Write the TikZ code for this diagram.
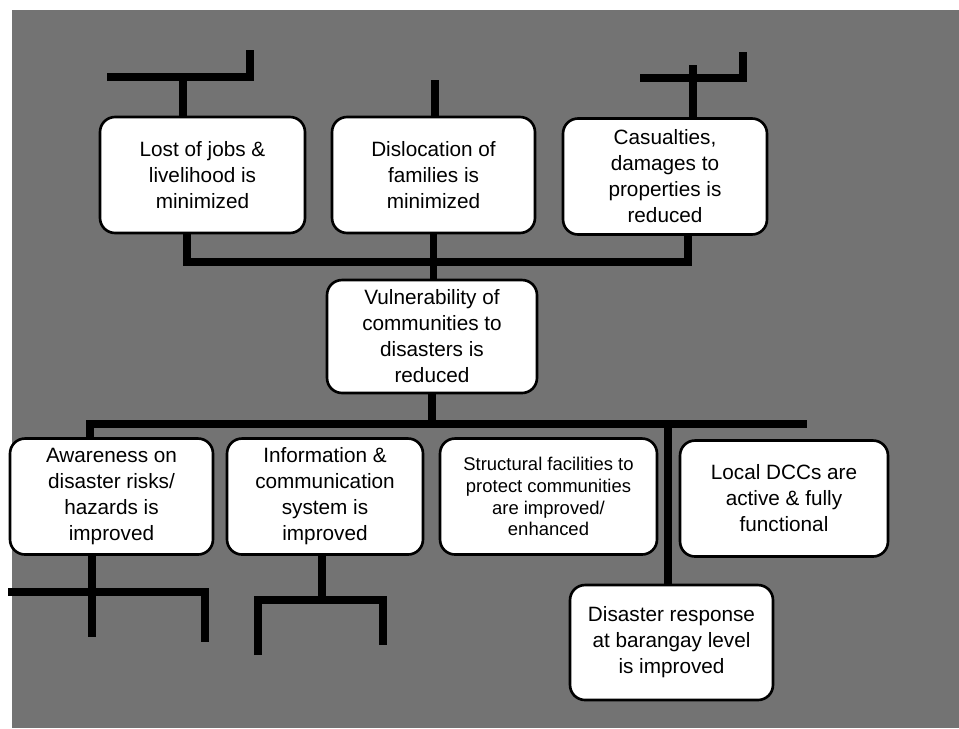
\documentclass[tikz,border=0pt]{standalone}
\usepackage{fontspec}
\setmainfont{Liberation Sans}
\usetikzlibrary{calc}

\begin{document}
\begin{tikzpicture}[x=0.02cm,y=-0.02cm,
	goalbox/.style={draw=black, line width=1.5pt, fill=white, rounded corners=0.3cm,
		align=center, inner sep=0pt, minimum height=2.32cm,
		font=\fontsize{11.8}{14.8}\selectfont},
	bar/.style={black, line width=4.4pt}]
			
			\useasboundingbox (0,0) rectangle (959,728);
			\fill[black!55] (12,10) rectangle (959,728);
			
			\begin{scope}
				\node[goalbox, minimum width=4.1cm] (lost) at (202.5,175) {Lost of jobs \&\\livelihood is\\minimized};
				\node[goalbox, minimum width=4.06cm] (disl) at (433.5,175) {Dislocation of\\families is\\minimized};
				\node[goalbox, minimum width=4.08cm] (cas) at (665,176.5) {Casualties,\\damages to\\properties is\\reduced};
				
				\coordinate (a1) at (107,77); \coordinate (a2) at (250,50); \coordinate (a3) at (183,77);
				\draw[bar] (a1) -- (a2 |- a1) -- (a2);
				\draw[bar] (a3) -- (a3 |- lost.north);
				
				\coordinate (b1) at (435,80);
				\draw[bar] (b1) -- (b1 |- disl.north);
				
				\coordinate (c1) at (640,78); \coordinate (c2) at (743,52); \coordinate (c3) at (693,65);
				\draw[bar] (c1) -- (c2 |- c1) -- (c2);
				\draw[bar] (c3) -- (c3 |- cas.north);
			\end{scope}
			
			\begin{scope}
				\node[goalbox, minimum width=4.2cm, minimum height=2.26cm] (vuln) at (432,336.5) {Vulnerability of\\communities to\\disasters is\\reduced};
				
				\coordinate (m1) at (187,262); \coordinate (m2) at (688,262);
				\draw[bar] (m1 |- lost.south) -- (m1) -- (m2) -- (m2 |- cas.south);
				\draw[bar] (disl.south) -- (disl.south |- vuln.north);
			\end{scope}
			
			\begin{scope}
				\node[goalbox, minimum width=4.06cm] (aware) at (111.5,496.5) {Awareness on\\disaster risks/\\hazards is\\improved};
				\node[goalbox, minimum width=3.92cm] (info) at (325,496.5) {Information \&\\communication\\system is\\improved};
				\node[goalbox, minimum width=4.34cm, font=\fontsize{10.5}{12.4}\selectfont] (struct) at (548.5,496.5) {Structural facilities to\\protect communities\\are improved/\\enhanced};
				\node[goalbox, minimum width=4.16cm] (local) at (784,498.5) {Local DCCs are\\active \& fully\\functional};
				\node[goalbox, minimum width=4.06cm, minimum height=2.3cm] (resp) at (671.5,642.5) {Disaster response\\at barangay level\\is improved};
				
				\coordinate (n1) at (90,424); \coordinate (n2) at (807,424); \coordinate (n3) at (668,424);
				\draw[bar] (vuln.south) -- (vuln.south |- n1);
				\draw[bar] (n1 |- aware.north) -- (n1) -- (n2);
				\draw[bar] (n3) -- (n3 |- resp.north);
			\end{scope}
			
			\begin{scope}
				\coordinate (p1) at (8,592); \coordinate (p2) at (92,637); \coordinate (p3) at (205,642);
				\draw[bar] (p2 |- aware.south) -- (p2);
				\draw[bar] (p1) -- (p3 |- p1) -- (p3);
				
				\coordinate (q0) at (322,600); \coordinate (q1) at (258,655); \coordinate (q2) at (383,645);
				\draw[bar] (q0 |- info.south) -- (q0);
				\draw[bar] (q1) -- (q1 |- q0) -- (q2 |- q0) -- (q2);
			\end{scope}
			
		\end{tikzpicture}
\end{document}
